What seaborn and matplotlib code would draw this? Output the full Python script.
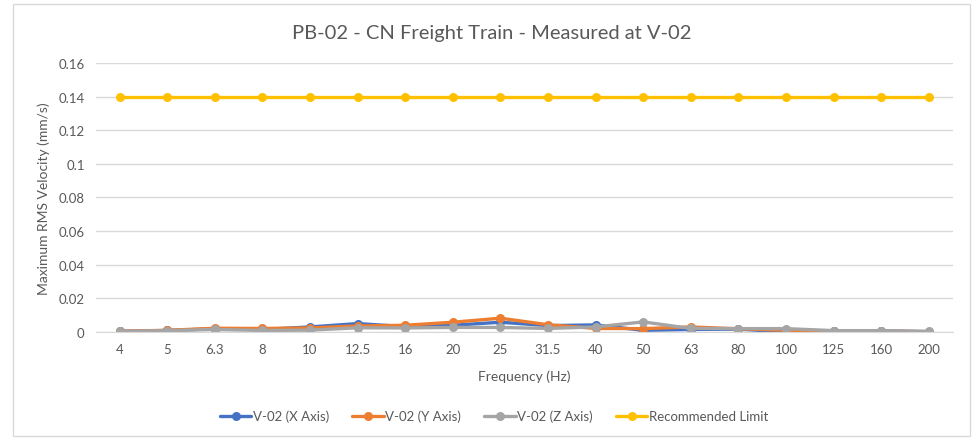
import numpy as np
import pandas as pd
import seaborn as sns
import matplotlib.pyplot as plt
from matplotlib.patches import Rectangle

# Colours (Office palette)
BLUE   = "#4472C4"
ORANGE = "#ED7D31"
GREY   = "#A5A5A5"
GOLD   = "#FFC000"
TEXT   = "#595959"
GRID   = "#D9D9D9"

freqs = ["4", "5", "6.3", "8", "10", "12.5", "16", "20", "25", "31.5",
         "40", "50", "63", "80", "100", "125", "160", "200"]

x_axis = [0.0004, 0.0009, 0.0019, 0.0015, 0.0030, 0.0050, 0.0032, 0.0040, 0.0058, 0.0038,
          0.0042, 0.0010, 0.0015, 0.0017, 0.0000, 0.0007, 0.0006, 0.0002]
y_axis = [0.0004, 0.0010, 0.0022, 0.0021, 0.0024, 0.0036, 0.0040, 0.0058, 0.0082, 0.0043,
          0.0021, 0.0020, 0.0030, 0.0019, 0.0010, 0.0007, 0.0005, 0.0002]
z_axis = [0.0003, 0.0008, 0.0015, 0.0009, 0.0011, 0.0025, 0.0024, 0.0027, 0.0027, 0.0021,
          0.0030, 0.0060, 0.0021, 0.0020, 0.0020, 0.0008, 0.0008, 0.0003]
limit  = [0.14] * len(freqs)

series = {
    "V-02 (X Axis)": x_axis,
    "V-02 (Y Axis)": y_axis,
    "V-02 (Z Axis)": z_axis,
    "Recommended Limit": limit,
}
palette = [BLUE, ORANGE, GREY, GOLD]

rows = []
for name, vals in series.items():
    for f, v in zip(freqs, vals):
        rows.append({"Frequency": f, "Value": v, "Series": name})
df = pd.DataFrame(rows)

sns.set_style("white")
plt.rcParams['font.family'] = ['Lato', 'DejaVu Sans']

fig = plt.figure(figsize=(9.78, 4.39), dpi=100)
ax = fig.add_axes([0.098, 0.2415, 0.876, 0.6127])

# chart border
fig.patches.append(Rectangle((13 / 978, 2 / 439), 957 / 978, 432 / 439, transform=fig.transFigure,
                             fill=False, edgecolor=GRID, linewidth=1.0))

sns.lineplot(data=df, x="Frequency", y="Value", hue="Series", palette=palette,
             marker="o", markersize=6.5, markeredgewidth=0, linewidth=2.4,
             sort=False, ax=ax, legend=True)

ax.set_xlim(-0.5, len(freqs) - 0.5)
ax.set_ylim(0, 0.16)
ax.set_yticks(np.arange(0, 0.161, 0.02))
ax.set_yticklabels(["0", "0.02", "0.04", "0.06", "0.08", "0.1", "0.12", "0.14", "0.16"])
ax.yaxis.grid(True, color=GRID, linewidth=1.0)
ax.set_axisbelow(True)
for s in ["top", "right", "left"]:
    ax.spines[s].set_visible(False)
ax.spines["bottom"].set_color(GRID)
ax.tick_params(axis="both", length=0, labelsize=9.5, colors=TEXT, pad=8)

ax.set_xlabel("Frequency (Hz)", fontsize=10, color=TEXT, labelpad=10)
ax.set_ylabel("Maximum RMS Velocity (mm/s)", fontsize=10, color=TEXT, labelpad=6)
fig.text(0.503, 1 - 33 / 439, "PB-02 - CN Freight Train - Measured at V-02", fontsize=14.5,
         color=TEXT, ha="center", va="center")

handles, labels = ax.get_legend_handles_labels()
ax.legend_.remove()
fig.legend(handles, labels, loc="center", bbox_to_anchor=(0.505, 0.05), ncol=4, frameon=False,
           fontsize=9.5, labelcolor=TEXT, handlelength=2.4, handletextpad=0.1, columnspacing=1.75)

fig.savefig("out.png", dpi=100)
